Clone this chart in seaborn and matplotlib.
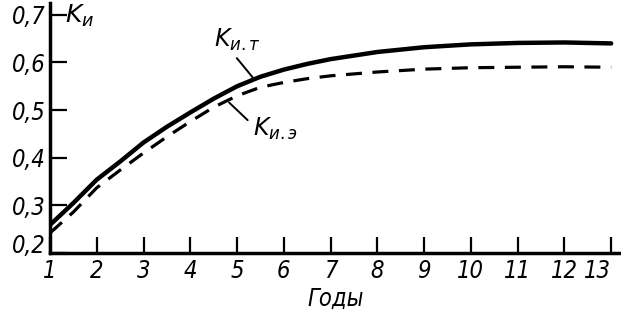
import matplotlib.pyplot as plt
import seaborn as sns
import numpy as np

# years on the x axis (half-year readings in the steep part)
years = [1, 1.5, 2, 2.5, 3, 3.5, 4, 4.5, 5, 5.5, 6, 6.5, 7, 8, 9, 10, 11, 12, 13]
# K_и.т (solid) and K_и.э (dashed)
k_t = [0.259, 0.305, 0.354, 0.392, 0.432, 0.465, 0.495, 0.524, 0.550, 0.570, 0.585,
       0.597, 0.607, 0.622, 0.632, 0.638, 0.641, 0.642, 0.640]
k_e = [0.242, 0.286, 0.337, 0.374, 0.410, 0.444, 0.476, 0.506, 0.530, 0.548, 0.558,
       0.566, 0.572, 0.580, 0.586, 0.589, 0.590, 0.591, 0.590]
x_ticks = list(range(1, 14))
y_ticks = [0.2, 0.3, 0.4, 0.5, 0.6, 0.7]
y_labels = ["0,2", "0,3", "0,4", "0,5", "0,6", "0,7"]


def plot_k():
    sns.set_style("ticks")
    plt.rcParams["font.family"] = ["DejaVu Sans"]
    plt.rcParams["mathtext.fontset"] = "dejavusans"
    plt.rcParams["text.color"] = "black"

    fig = plt.figure(figsize=(6.21, 3.25), dpi=100)
    ax = fig.add_axes([0.0805, 0.2215, 0.9195, 0.7695])

    sns.lineplot(x=years, y=k_t, ax=ax, color="black", lw=3.2)
    sns.lineplot(x=years, y=k_e, ax=ax, color="black", lw=2.3,
                 linestyle=(0, (5, 3.3)))

    lab_kw = dict(fontstyle="italic", fontstretch="condensed", fontsize=17,
                  color="black")
    ax.set_xlim(1, 13.21)
    ax.set_ylim(0.2, 0.725)
    ax.set_xticks(x_ticks)
    ax.set_xticklabels([str(v) for v in x_ticks], **lab_kw)
    ax.get_xticklabels()[-1].set_horizontalalignment("right")
    ax.set_yticks(y_ticks)
    ax.set_yticklabels(y_labels, **lab_kw)
    # the lowest label sits a little above its tick, clear of the x labels
    ax.get_yticklabels()[0].set_verticalalignment("baseline")

    sns.despine(ax=ax)
    for s in ("left", "bottom"):
        ax.spines[s].set_linewidth(2.5)
        ax.spines[s].set_color("black")
    ax.tick_params(axis="x", direction="in", length=11.5, width=1.6, pad=4,
                   color="black")
    ax.tick_params(axis="y", direction="in", length=12, width=1.6, pad=3,
                   color="black")

    ax.set_xlabel("Годы", labelpad=3, **lab_kw)

    ax.text(1.33, 0.697, r"$K_{и}$", fontsize=18, va="center", ha="left")
    ax.annotate(r"$K_{и.т}$", xy=(5.34, 0.568), xytext=(5.0, 0.648),
                fontsize=17, ha="center", va="center",
                arrowprops=dict(arrowstyle="-", lw=1.4, color="black",
                                relpos=(0.4, 0.0), shrinkA=2, shrinkB=0))
    ax.annotate(r"$K_{и.э}$", xy=(4.83, 0.516), xytext=(5.34, 0.460),
                fontsize=17, ha="left", va="center",
                arrowprops=dict(arrowstyle="-", lw=1.4, color="black",
                                relpos=(0.0, 0.65), shrinkA=2, shrinkB=0))

    plt.savefig("out.png", dpi=100)


if __name__ == "__main__":
    plot_k()
